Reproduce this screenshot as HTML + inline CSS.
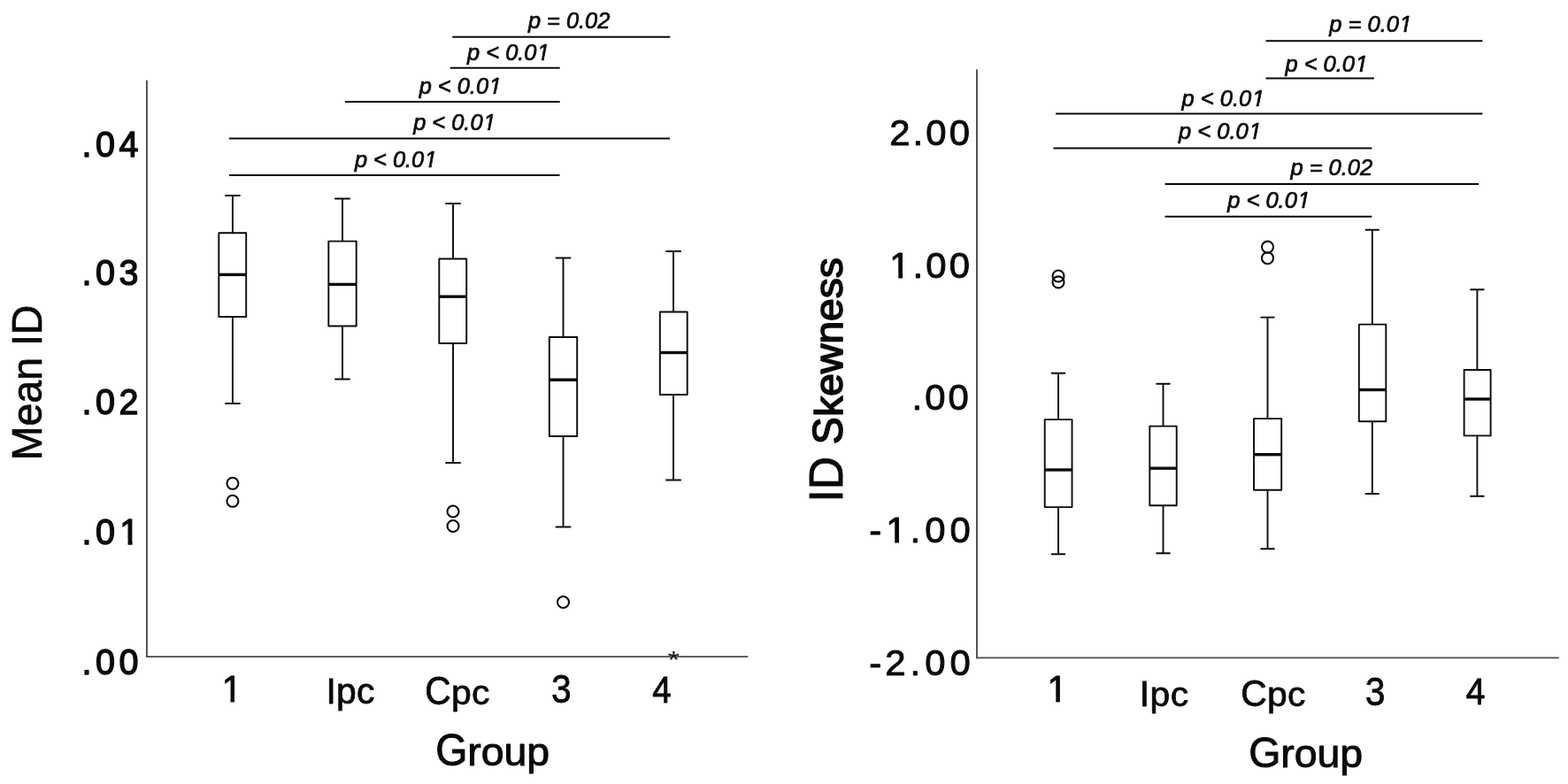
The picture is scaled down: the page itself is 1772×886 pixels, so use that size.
<!DOCTYPE html>
<html lang="en"><head><meta charset="utf-8"><title>Boxplots: Mean ID and ID Skewness by Group</title>
<style>
html,body{margin:0;padding:0;background:#fff;}
body{width:1772px;height:886px;overflow:hidden;}
svg{display:block;font-family:"Liberation Sans",Arial,Helvetica,sans-serif;fill:#0a0a0a;}
text{white-space:pre;}
</style></head><body>
<svg width="1772" height="886" viewBox="0 0 1772 886">
<rect width="1772" height="886" fill="#fff"/>
<g id="left-chart">
<line x1="165.90" y1="90.70" x2="165.90" y2="743.00" stroke="#4a4a4a" stroke-width="1.9" />
<line x1="165.10" y1="742.15" x2="845.40" y2="742.15" stroke="#4a4a4a" stroke-width="1.9" />
<text transform="translate(92.49,176.60) scale(1,1.05)" font-size="39.5" letter-spacing="4.500" stroke="#0a0a0a" stroke-width="1.4" stroke-linejoin="round">.04</text>
<text transform="translate(92.49,321.60) scale(1,1.05)" font-size="39.5" letter-spacing="4.500" stroke="#0a0a0a" stroke-width="1.4" stroke-linejoin="round">.03</text>
<text transform="translate(92.49,468.30) scale(1,1.05)" font-size="39.5" letter-spacing="4.500" stroke="#0a0a0a" stroke-width="1.4" stroke-linejoin="round">.02</text>
<text transform="translate(92.49,615.20) scale(1,1.05)" font-size="39.5" letter-spacing="4.500" stroke="#0a0a0a" stroke-width="1.4" stroke-linejoin="round"><tspan x="0.00" y="0">.0</tspan><tspan x="42.89" y="0">1</tspan></text>
<g transform="translate(92.49,615.20) scale(1,1.05)"><polygon points="43.80,-4.95 52.07,-4.95 52.07,2.00 43.80,2.00" fill="#fff"/><polygon points="57.06,-4.95 65.03,-4.95 65.03,2.00 57.06,2.00" fill="#fff"/></g>
<text transform="translate(92.49,761.60) scale(1,1.05)" font-size="39.5" letter-spacing="4.500" stroke="#0a0a0a" stroke-width="1.4" stroke-linejoin="round">.00</text>
<text transform="translate(249.71,792.90) scale(1,1.034)" font-size="40.8" letter-spacing="0.000" stroke="#0a0a0a" stroke-width="0.9" stroke-linejoin="round"><tspan x="0.98" y="0">1</tspan></text>
<g transform="translate(249.71,792.90) scale(1,1.034)"><polygon points="2.24,-4.80 10.74,-4.80 10.74,1.75 2.24,1.75" fill="#fff"/><polygon points="15.34,-4.80 23.53,-4.80 23.53,1.75 15.34,1.75" fill="#fff"/></g>
<text transform="translate(368.43,795.00) scale(1,0.98)" font-size="40.8" letter-spacing="0.257" stroke="#0a0a0a" stroke-width="0.8" stroke-linejoin="round"><tspan x="0.00" y="0" font-size="41.42" letter-spacing="0" textLength="11.34" lengthAdjust="spacingAndGlyphs">I</tspan><tspan x="11.59" y="0">pc</tspan></text>
<text transform="translate(480.28,795.80) scale(1,0.965)" font-size="40.8" letter-spacing="0.246" stroke="#0a0a0a" stroke-width="0.8" stroke-linejoin="round"><tspan x="0.00" y="0" font-size="45.66" letter-spacing="0" textLength="29.46" lengthAdjust="spacingAndGlyphs">C</tspan><tspan x="29.71" y="0">pc</tspan></text>
<text transform="translate(622.95,794.05) scale(1,1.082)" font-size="40.8" letter-spacing="0.000" stroke="#0a0a0a" stroke-width="0.8" stroke-linejoin="round">3</text>
<text transform="translate(737.31,793.90) scale(1,1.093)" font-size="38.6" letter-spacing="0.000" stroke="#0a0a0a" stroke-width="0.8" stroke-linejoin="round">4</text>
<text transform="translate(492.26,865.30) scale(1,0.97)" font-size="46.5" letter-spacing="-0.087" stroke="#0a0a0a" stroke-width="1.0" stroke-linejoin="round"><tspan x="0.00" y="0" font-size="50.81" letter-spacing="0" textLength="36.17" lengthAdjust="spacingAndGlyphs">G</tspan><tspan x="36.08" y="0">roup</tspan></text>
<text transform="translate(46.6,520.26) rotate(-90) scale(1,1.02)" font-size="46.5" stroke="#0a0a0a" stroke-width="0.7" stroke-linejoin="round">Mean ID</text>
<line x1="511.20" y1="41.75" x2="757.30" y2="41.75" stroke="#0a0a0a" stroke-width="2.0" />
<line x1="508.70" y1="76.70" x2="632.70" y2="76.70" stroke="#0a0a0a" stroke-width="2.0" />
<line x1="390.00" y1="115.00" x2="632.70" y2="115.00" stroke="#0a0a0a" stroke-width="2.0" />
<line x1="259.00" y1="156.60" x2="757.00" y2="156.60" stroke="#0a0a0a" stroke-width="2.0" />
<line x1="259.00" y1="198.00" x2="632.50" y2="198.00" stroke="#0a0a0a" stroke-width="2.0" />
<text transform="translate(596.88,32.10) scale(1,1.04)" font-size="25.4" font-style="italic" letter-spacing="0.000" stroke="#0a0a0a" stroke-width="0.7" stroke-linejoin="round">p = 0.02</text>
<text transform="translate(528.08,67.70) scale(1,1.04)" font-size="25.4" font-style="italic" letter-spacing="0.000" stroke="#0a0a0a" stroke-width="0.7" stroke-linejoin="round"><tspan x="0.00" y="0">p &lt; 0.0</tspan><tspan x="78.99" y="0">1</tspan></text>
<g transform="translate(528.08,67.70) scale(1,1.04)"><polygon points="78.22,-3.55 84.40,-3.55 83.38,1.65 77.20,1.65" fill="#fff"/><polygon points="87.44,-3.55 93.42,-3.55 92.40,1.65 86.42,1.65" fill="#fff"/></g>
<text transform="translate(473.68,105.50) scale(1,1.04)" font-size="25.4" font-style="italic" letter-spacing="0.000" stroke="#0a0a0a" stroke-width="0.7" stroke-linejoin="round"><tspan x="0.00" y="0">p &lt; 0.0</tspan><tspan x="78.99" y="0">1</tspan></text>
<g transform="translate(473.68,105.50) scale(1,1.04)"><polygon points="78.22,-3.55 84.40,-3.55 83.38,1.65 77.20,1.65" fill="#fff"/><polygon points="87.44,-3.55 93.42,-3.55 92.40,1.65 86.42,1.65" fill="#fff"/></g>
<text transform="translate(467.18,146.80) scale(1,1.04)" font-size="25.4" font-style="italic" letter-spacing="0.000" stroke="#0a0a0a" stroke-width="0.7" stroke-linejoin="round"><tspan x="0.00" y="0">p &lt; 0.0</tspan><tspan x="78.99" y="0">1</tspan></text>
<g transform="translate(467.18,146.80) scale(1,1.04)"><polygon points="78.22,-3.55 84.40,-3.55 83.38,1.65 77.20,1.65" fill="#fff"/><polygon points="87.44,-3.55 93.42,-3.55 92.40,1.65 86.42,1.65" fill="#fff"/></g>
<text transform="translate(400.88,188.70) scale(1,1.04)" font-size="25.4" font-style="italic" letter-spacing="0.000" stroke="#0a0a0a" stroke-width="0.7" stroke-linejoin="round"><tspan x="0.00" y="0">p &lt; 0.0</tspan><tspan x="78.99" y="0">1</tspan></text>
<g transform="translate(400.88,188.70) scale(1,1.04)"><polygon points="78.22,-3.55 84.40,-3.55 83.38,1.65 77.20,1.65" fill="#fff"/><polygon points="87.44,-3.55 93.42,-3.55 92.40,1.65 86.42,1.65" fill="#fff"/></g>
<line x1="262.90" y1="221.00" x2="262.90" y2="263.20" stroke="#0a0a0a" stroke-width="1.9" />
<line x1="262.90" y1="358.00" x2="262.90" y2="456.00" stroke="#0a0a0a" stroke-width="1.9" />
<line x1="254.90" y1="221.00" x2="270.90" y2="221.00" stroke="#0a0a0a" stroke-width="1.9" stroke-linecap="round"/>
<line x1="254.90" y1="456.00" x2="270.90" y2="456.00" stroke="#0a0a0a" stroke-width="1.9" stroke-linecap="round"/>
<rect x="247.30" y="263.20" width="30.90" height="94.80" fill="#fff" stroke="#0a0a0a" stroke-width="1.9" stroke-linejoin="round"/>
<line x1="247.30" y1="310.40" x2="278.20" y2="310.40" stroke="#0a0a0a" stroke-width="3.4" />
<circle cx="262.90" cy="546.30" r="6.5" fill="none" stroke="#0a0a0a" stroke-width="2.1"/>
<circle cx="262.90" cy="566.30" r="6.5" fill="none" stroke="#0a0a0a" stroke-width="2.1"/>
<line x1="387.00" y1="224.50" x2="387.00" y2="272.60" stroke="#0a0a0a" stroke-width="1.9" />
<line x1="387.00" y1="368.50" x2="387.00" y2="428.50" stroke="#0a0a0a" stroke-width="1.9" />
<line x1="379.00" y1="224.50" x2="395.00" y2="224.50" stroke="#0a0a0a" stroke-width="1.9" stroke-linecap="round"/>
<line x1="379.00" y1="428.50" x2="395.00" y2="428.50" stroke="#0a0a0a" stroke-width="1.9" stroke-linecap="round"/>
<rect x="371.30" y="272.60" width="31.40" height="95.90" fill="#fff" stroke="#0a0a0a" stroke-width="1.9" stroke-linejoin="round"/>
<line x1="371.30" y1="321.40" x2="402.70" y2="321.40" stroke="#0a0a0a" stroke-width="3.4" />
<line x1="512.00" y1="230.00" x2="512.00" y2="292.50" stroke="#0a0a0a" stroke-width="1.9" />
<line x1="512.00" y1="388.00" x2="512.00" y2="523.00" stroke="#0a0a0a" stroke-width="1.9" />
<line x1="504.00" y1="230.00" x2="520.00" y2="230.00" stroke="#0a0a0a" stroke-width="1.9" stroke-linecap="round"/>
<line x1="504.00" y1="523.00" x2="520.00" y2="523.00" stroke="#0a0a0a" stroke-width="1.9" stroke-linecap="round"/>
<rect x="496.30" y="292.50" width="30.90" height="95.50" fill="#fff" stroke="#0a0a0a" stroke-width="1.9" stroke-linejoin="round"/>
<line x1="496.30" y1="335.20" x2="527.20" y2="335.20" stroke="#0a0a0a" stroke-width="3.4" />
<circle cx="512.00" cy="578.00" r="6.5" fill="none" stroke="#0a0a0a" stroke-width="2.1"/>
<circle cx="512.00" cy="594.50" r="6.5" fill="none" stroke="#0a0a0a" stroke-width="2.1"/>
<line x1="636.50" y1="291.50" x2="636.50" y2="381.00" stroke="#0a0a0a" stroke-width="1.9" />
<line x1="636.50" y1="493.00" x2="636.50" y2="595.50" stroke="#0a0a0a" stroke-width="1.9" />
<line x1="628.50" y1="291.50" x2="644.50" y2="291.50" stroke="#0a0a0a" stroke-width="1.9" stroke-linecap="round"/>
<line x1="628.50" y1="595.50" x2="644.50" y2="595.50" stroke="#0a0a0a" stroke-width="1.9" stroke-linecap="round"/>
<rect x="620.80" y="381.00" width="31.40" height="112.00" fill="#fff" stroke="#0a0a0a" stroke-width="1.9" stroke-linejoin="round"/>
<line x1="620.80" y1="429.20" x2="652.20" y2="429.20" stroke="#0a0a0a" stroke-width="3.4" />
<circle cx="636.50" cy="680.50" r="6.5" fill="none" stroke="#0a0a0a" stroke-width="2.1"/>
<line x1="761.00" y1="284.00" x2="761.00" y2="352.50" stroke="#0a0a0a" stroke-width="1.9" />
<line x1="761.00" y1="446.00" x2="761.00" y2="542.50" stroke="#0a0a0a" stroke-width="1.9" />
<line x1="753.00" y1="284.00" x2="769.00" y2="284.00" stroke="#0a0a0a" stroke-width="1.9" stroke-linecap="round"/>
<line x1="753.00" y1="542.50" x2="769.00" y2="542.50" stroke="#0a0a0a" stroke-width="1.9" stroke-linecap="round"/>
<rect x="745.80" y="352.50" width="30.90" height="93.50" fill="#fff" stroke="#0a0a0a" stroke-width="1.9" stroke-linejoin="round"/>
<line x1="745.80" y1="398.50" x2="776.70" y2="398.50" stroke="#0a0a0a" stroke-width="3.4" />
<text transform="translate(761.2,740.7) scale(1,0.8)" y="18.45" font-size="35" text-anchor="middle" fill="#1c1c1c">*</text>
</g>
<g id="right-chart">
<line x1="1104.00" y1="78.40" x2="1104.00" y2="744.20" stroke="#4a4a4a" stroke-width="1.9" />
<line x1="1103.20" y1="743.40" x2="1761.80" y2="743.40" stroke="#4a4a4a" stroke-width="1.9" />
<text transform="translate(1005.28,164.15) scale(1,0.99)" font-size="41.8" letter-spacing="3.100" stroke="#0a0a0a" stroke-width="1.0" stroke-linejoin="round">2.00</text>
<text transform="translate(1005.28,313.75) scale(1,0.99)" font-size="41.8" letter-spacing="3.100" stroke="#0a0a0a" stroke-width="1.0" stroke-linejoin="round"><tspan x="0.00" y="0">1</tspan><tspan x="26.35" y="0">.00</tspan></text>
<g transform="translate(1005.28,313.75) scale(1,0.99)"><polygon points="1.28,-4.92 9.96,-4.92 9.96,1.80 1.28,1.80" fill="#fff"/><polygon points="14.76,-4.92 23.11,-4.92 23.11,1.80 14.76,1.80" fill="#fff"/></g>
<text transform="translate(1030.43,462.95) scale(1,0.99)" font-size="41.8" letter-spacing="3.100" stroke="#0a0a0a" stroke-width="1.0" stroke-linejoin="round">.00</text>
<text transform="translate(981.26,613.35) scale(1,0.99)" font-size="41.8" letter-spacing="5.050" stroke="#0a0a0a" stroke-width="1.0" stroke-linejoin="round"><tspan x="1.10" y="0.00">-</tspan><tspan x="19.97" y="0">1</tspan><tspan x="47.27" y="0">.00</tspan></text>
<g transform="translate(981.26,613.35) scale(1,0.99)"><polygon points="21.26,-4.92 29.93,-4.92 29.93,1.80 21.26,1.80" fill="#fff"/><polygon points="34.73,-4.92 43.08,-4.92 43.08,1.80 34.73,1.80" fill="#fff"/></g>
<text transform="translate(981.26,762.95) scale(1,0.99)" font-size="41.8" letter-spacing="5.050" stroke="#0a0a0a" stroke-width="1.0" stroke-linejoin="round"><tspan x="1.10" y="0.00">-</tspan><tspan x="18.97" y="0">2.00</tspan></text>
<text transform="translate(1182.51,793.00) scale(1,1.034)" font-size="40.8" letter-spacing="0.000" stroke="#0a0a0a" stroke-width="0.9" stroke-linejoin="round"><tspan x="0.98" y="0">1</tspan></text>
<g transform="translate(1182.51,793.00) scale(1,1.034)"><polygon points="2.24,-4.80 10.74,-4.80 10.74,1.75 2.24,1.75" fill="#fff"/><polygon points="15.34,-4.80 23.53,-4.80 23.53,1.75 15.34,1.75" fill="#fff"/></g>
<text transform="translate(1287.63,797.90) scale(1,0.97)" font-size="40.8" letter-spacing="0.607" stroke="#0a0a0a" stroke-width="0.8" stroke-linejoin="round"><tspan x="0.00" y="0" font-size="41.22" letter-spacing="0" textLength="11.34" lengthAdjust="spacingAndGlyphs">I</tspan><tspan x="11.94" y="0">pc</tspan></text>
<text transform="translate(1402.13,798.05) scale(1,0.97)" font-size="40.8" letter-spacing="0.396" stroke="#0a0a0a" stroke-width="0.8" stroke-linejoin="round"><tspan x="0.00" y="0" font-size="44.16" letter-spacing="0" textLength="29.46" lengthAdjust="spacingAndGlyphs">C</tspan><tspan x="29.86" y="0">pc</tspan></text>
<text transform="translate(1542.75,796.50) scale(1,1.093)" font-size="40.8" letter-spacing="0.000" stroke="#0a0a0a" stroke-width="0.8" stroke-linejoin="round">3</text>
<text transform="translate(1656.70,795.60) scale(1,1.075)" font-size="39.0" letter-spacing="0.000" stroke="#0a0a0a" stroke-width="0.8" stroke-linejoin="round">4</text>
<text transform="translate(1411.26,866.80) scale(1,0.97)" font-size="46.5" letter-spacing="-0.087" stroke="#0a0a0a" stroke-width="1.0" stroke-linejoin="round"><tspan x="0.00" y="0" font-size="49.86" letter-spacing="0" textLength="36.17" lengthAdjust="spacingAndGlyphs">G</tspan><tspan x="36.08" y="0">roup</tspan></text>
<text transform="translate(951.9,567.55) rotate(-90) scale(1,0.955)" font-size="46.2" stroke="#0a0a0a" stroke-width="1.7" stroke-linejoin="round"><tspan x="0" font-size="56.08" stroke-width="1.0" textLength="51.50" lengthAdjust="spacingAndGlyphs">ID</tspan> <tspan x="65.40" font-size="50.80" textLength="30.82" lengthAdjust="spacingAndGlyphs">S</tspan><tspan x="96.82">kewness</tspan></text>
<line x1="1430.50" y1="46.20" x2="1675.40" y2="46.20" stroke="#0a0a0a" stroke-width="2.0" />
<line x1="1430.50" y1="88.50" x2="1552.80" y2="88.50" stroke="#0a0a0a" stroke-width="2.0" />
<line x1="1193.00" y1="128.60" x2="1675.40" y2="128.60" stroke="#0a0a0a" stroke-width="2.0" />
<line x1="1190.50" y1="167.60" x2="1550.30" y2="167.60" stroke="#0a0a0a" stroke-width="2.0" />
<line x1="1316.60" y1="208.00" x2="1671.10" y2="208.00" stroke="#0a0a0a" stroke-width="2.0" />
<line x1="1316.50" y1="244.80" x2="1550.30" y2="244.80" stroke="#0a0a0a" stroke-width="2.0" />
<text transform="translate(1502.29,36.10) scale(1,1.04)" font-size="25.5" font-style="italic" letter-spacing="0.000" stroke="#0a0a0a" stroke-width="0.7" stroke-linejoin="round"><tspan x="0.00" y="0">p = 0.0</tspan><tspan x="79.30" y="0">1</tspan></text>
<g transform="translate(1502.29,36.10) scale(1,1.04)"><polygon points="78.54,-3.56 84.73,-3.56 83.71,1.65 77.52,1.65" fill="#fff"/><polygon points="87.78,-3.56 93.78,-3.56 92.76,1.65 86.76,1.65" fill="#fff"/></g>
<text transform="translate(1452.39,81.20) scale(1,1.04)" font-size="25.5" font-style="italic" letter-spacing="0.000" stroke="#0a0a0a" stroke-width="0.7" stroke-linejoin="round"><tspan x="0.00" y="0">p &lt; 0.0</tspan><tspan x="79.30" y="0">1</tspan></text>
<g transform="translate(1452.39,81.20) scale(1,1.04)"><polygon points="78.54,-3.56 84.73,-3.56 83.71,1.65 77.52,1.65" fill="#fff"/><polygon points="87.78,-3.56 93.78,-3.56 92.76,1.65 86.76,1.65" fill="#fff"/></g>
<text transform="translate(1335.59,119.80) scale(1,1.04)" font-size="25.5" font-style="italic" letter-spacing="0.000" stroke="#0a0a0a" stroke-width="0.7" stroke-linejoin="round"><tspan x="0.00" y="0">p &lt; 0.0</tspan><tspan x="79.30" y="0">1</tspan></text>
<g transform="translate(1335.59,119.80) scale(1,1.04)"><polygon points="78.54,-3.56 84.73,-3.56 83.71,1.65 77.52,1.65" fill="#fff"/><polygon points="87.78,-3.56 93.78,-3.56 92.76,1.65 86.76,1.65" fill="#fff"/></g>
<text transform="translate(1332.09,157.10) scale(1,1.04)" font-size="25.5" font-style="italic" letter-spacing="0.000" stroke="#0a0a0a" stroke-width="0.7" stroke-linejoin="round"><tspan x="0.00" y="0">p &lt; 0.0</tspan><tspan x="79.30" y="0">1</tspan></text>
<g transform="translate(1332.09,157.10) scale(1,1.04)"><polygon points="78.54,-3.56 84.73,-3.56 83.71,1.65 77.52,1.65" fill="#fff"/><polygon points="87.78,-3.56 93.78,-3.56 92.76,1.65 86.76,1.65" fill="#fff"/></g>
<text transform="translate(1458.39,198.00) scale(1,1.04)" font-size="25.5" font-style="italic" letter-spacing="0.000" stroke="#0a0a0a" stroke-width="0.7" stroke-linejoin="round">p = 0.02</text>
<text transform="translate(1387.19,234.50) scale(1,1.04)" font-size="25.5" font-style="italic" letter-spacing="0.000" stroke="#0a0a0a" stroke-width="0.7" stroke-linejoin="round"><tspan x="0.00" y="0">p &lt; 0.0</tspan><tspan x="79.30" y="0">1</tspan></text>
<g transform="translate(1387.19,234.50) scale(1,1.04)"><polygon points="78.54,-3.56 84.73,-3.56 83.71,1.65 77.52,1.65" fill="#fff"/><polygon points="87.78,-3.56 93.78,-3.56 92.76,1.65 86.76,1.65" fill="#fff"/></g>
<line x1="1196.00" y1="421.80" x2="1196.00" y2="474.10" stroke="#0a0a0a" stroke-width="1.9" />
<line x1="1196.00" y1="573.10" x2="1196.00" y2="626.20" stroke="#0a0a0a" stroke-width="1.9" />
<line x1="1188.70" y1="421.80" x2="1203.30" y2="421.80" stroke="#0a0a0a" stroke-width="1.9" stroke-linecap="round"/>
<line x1="1188.70" y1="626.20" x2="1203.30" y2="626.20" stroke="#0a0a0a" stroke-width="1.9" stroke-linecap="round"/>
<rect x="1180.70" y="474.10" width="30.80" height="99.00" fill="#fff" stroke="#0a0a0a" stroke-width="1.9" stroke-linejoin="round"/>
<line x1="1180.70" y1="531.00" x2="1211.50" y2="531.00" stroke="#0a0a0a" stroke-width="3.4" />
<circle cx="1196.00" cy="312.00" r="6.5" fill="none" stroke="#0a0a0a" stroke-width="2.1"/>
<circle cx="1196.00" cy="318.90" r="6.5" fill="none" stroke="#0a0a0a" stroke-width="2.1"/>
<line x1="1314.50" y1="433.80" x2="1314.50" y2="481.60" stroke="#0a0a0a" stroke-width="1.9" />
<line x1="1314.50" y1="571.30" x2="1314.50" y2="625.20" stroke="#0a0a0a" stroke-width="1.9" />
<line x1="1307.20" y1="433.80" x2="1321.80" y2="433.80" stroke="#0a0a0a" stroke-width="1.9" stroke-linecap="round"/>
<line x1="1307.20" y1="625.20" x2="1321.80" y2="625.20" stroke="#0a0a0a" stroke-width="1.9" stroke-linecap="round"/>
<rect x="1299.30" y="481.60" width="30.40" height="89.70" fill="#fff" stroke="#0a0a0a" stroke-width="1.9" stroke-linejoin="round"/>
<line x1="1299.30" y1="529.20" x2="1329.70" y2="529.20" stroke="#0a0a0a" stroke-width="3.4" />
<line x1="1432.50" y1="358.60" x2="1432.50" y2="473.10" stroke="#0a0a0a" stroke-width="1.9" />
<line x1="1432.50" y1="553.70" x2="1432.50" y2="620.20" stroke="#0a0a0a" stroke-width="1.9" />
<line x1="1425.20" y1="358.60" x2="1439.80" y2="358.60" stroke="#0a0a0a" stroke-width="1.9" stroke-linecap="round"/>
<line x1="1425.20" y1="620.20" x2="1439.80" y2="620.20" stroke="#0a0a0a" stroke-width="1.9" stroke-linecap="round"/>
<rect x="1417.00" y="473.10" width="31.20" height="80.60" fill="#fff" stroke="#0a0a0a" stroke-width="1.9" stroke-linejoin="round"/>
<line x1="1417.00" y1="513.70" x2="1448.20" y2="513.70" stroke="#0a0a0a" stroke-width="3.4" />
<circle cx="1432.50" cy="279.10" r="6.5" fill="none" stroke="#0a0a0a" stroke-width="2.1"/>
<circle cx="1432.50" cy="291.70" r="6.5" fill="none" stroke="#0a0a0a" stroke-width="2.1"/>
<line x1="1550.80" y1="259.80" x2="1550.80" y2="366.60" stroke="#0a0a0a" stroke-width="1.9" />
<line x1="1550.80" y1="476.30" x2="1550.80" y2="558.00" stroke="#0a0a0a" stroke-width="1.9" />
<line x1="1543.50" y1="259.80" x2="1558.10" y2="259.80" stroke="#0a0a0a" stroke-width="1.9" stroke-linecap="round"/>
<line x1="1543.50" y1="558.00" x2="1558.10" y2="558.00" stroke="#0a0a0a" stroke-width="1.9" stroke-linecap="round"/>
<rect x="1535.80" y="366.60" width="30.50" height="109.70" fill="#fff" stroke="#0a0a0a" stroke-width="1.9" stroke-linejoin="round"/>
<line x1="1535.80" y1="440.50" x2="1566.30" y2="440.50" stroke="#0a0a0a" stroke-width="3.4" />
<line x1="1669.40" y1="327.30" x2="1669.40" y2="418.00" stroke="#0a0a0a" stroke-width="1.9" />
<line x1="1669.40" y1="492.40" x2="1669.40" y2="560.80" stroke="#0a0a0a" stroke-width="1.9" />
<line x1="1662.10" y1="327.30" x2="1676.70" y2="327.30" stroke="#0a0a0a" stroke-width="1.9" stroke-linecap="round"/>
<line x1="1662.10" y1="560.80" x2="1676.70" y2="560.80" stroke="#0a0a0a" stroke-width="1.9" stroke-linecap="round"/>
<rect x="1654.60" y="418.00" width="30.00" height="74.40" fill="#fff" stroke="#0a0a0a" stroke-width="1.9" stroke-linejoin="round"/>
<line x1="1654.60" y1="451.00" x2="1684.60" y2="451.00" stroke="#0a0a0a" stroke-width="3.4" />
</g>
</svg>
</body></html>
